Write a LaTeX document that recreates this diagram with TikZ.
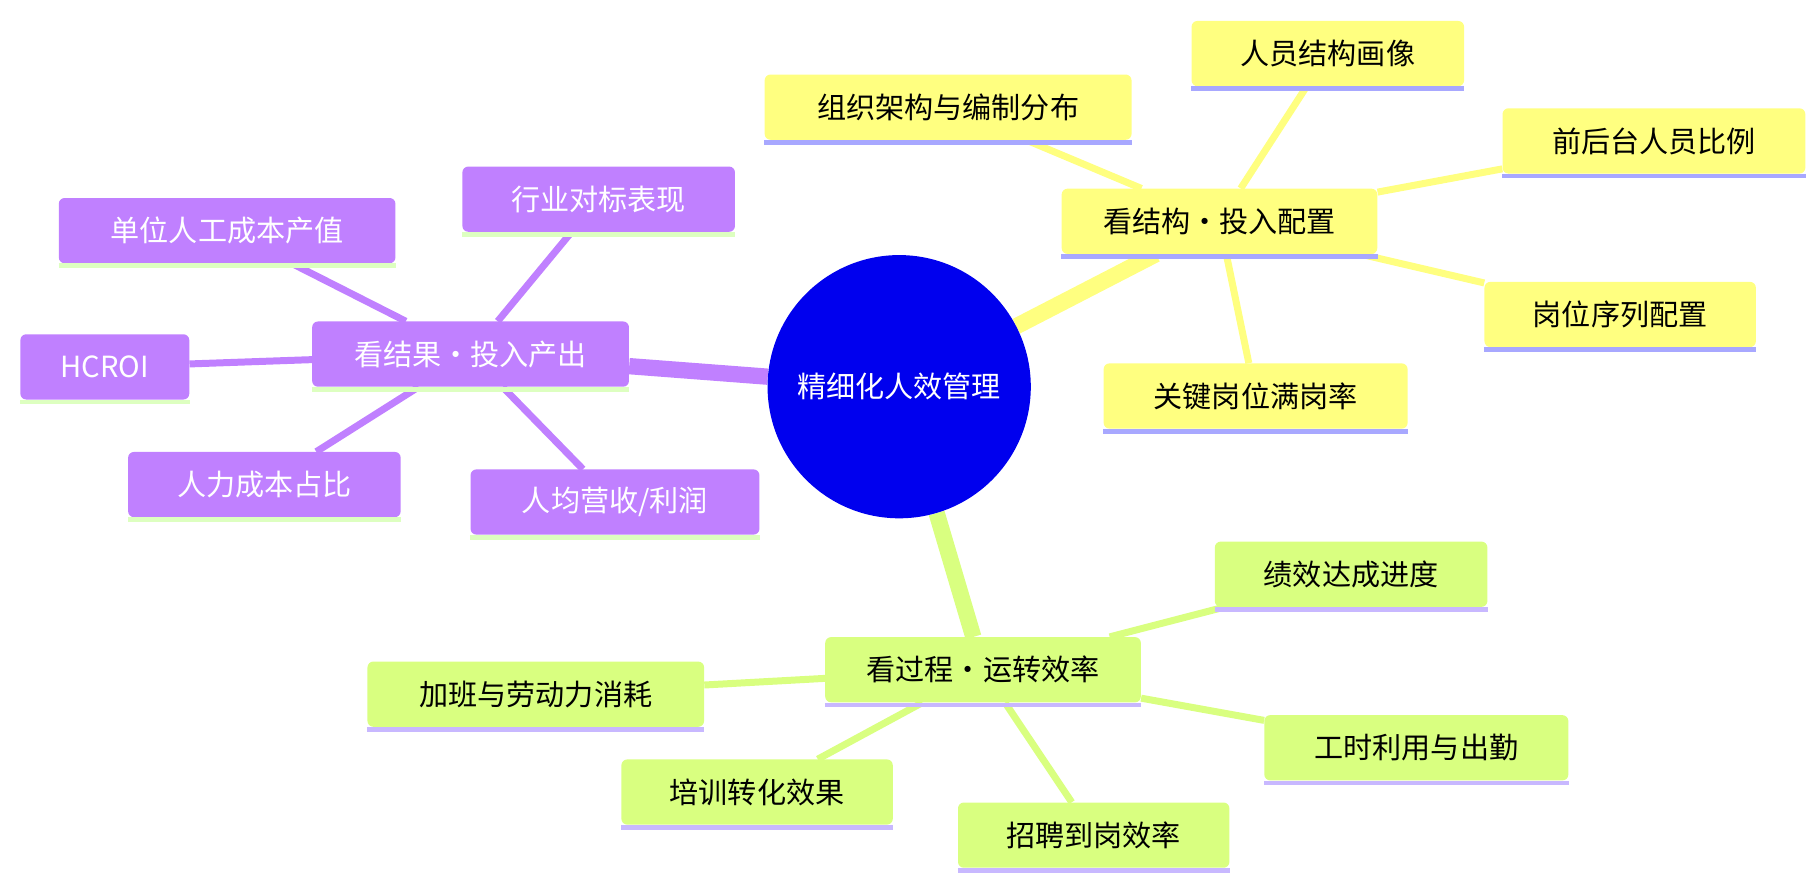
\documentclass[tikz,border=0pt]{standalone}
\usepackage{fontspec}
\setmainfont{Noto Sans CJK SC}
\usetikzlibrary{backgrounds}
\definecolor{yel}{HTML}{FFFF80}
\definecolor{grn}{HTML}{D9FF80}
\definecolor{pur}{HTML}{C080FF}
\definecolor{ulb}{HTML}{A8A8FF}
\definecolor{ulp}{HTML}{C8B8FF}
\definecolor{ulg}{HTML}{DDFFC0}
\definecolor{cblue}{HTML}{0000EE}
\tikzset{
 box/.style={rounded corners=5pt,inner sep=0pt,minimum height=56pt,font=\fontsize{25}{30}\selectfont},
 ybox/.style={box,fill=yel,text=black},
 gbox/.style={box,fill=grn,text=black},
 pbox/.style={box,fill=pur,text=white},
 mainl/.style={line width=14pt},
 subl/.style={line width=6pt},
}
\begin{document}
\begin{tikzpicture}[x=1pt,y=-1pt]
\useasboundingbox (0,0) rectangle (1560,760);
\node[circle,fill=cblue,minimum size=226pt,inner sep=0pt,text=white,font=\fontsize{25}{30}\selectfont] (c) at (772,332) {精细化人效管理};
% yellow
\node[ybox,minimum width=271pt] (y0) at (1047,190) {看结构·投入配置};
\node[ybox,minimum width=315pt] (y1) at (814,92) {组织架构与编制分布};
\node[ybox,minimum width=234pt] (y2) at (1140,46) {人员结构画像};
\node[ybox,minimum width=260pt] (y3) at (1420,121) {前后台人员比例};
\node[ybox,minimum width=233pt] (y4) at (1391,270) {岗位序列配置};
\node[ybox,minimum width=261pt] (y5) at (1078,340) {关键岗位满岗率};
% green
\node[gbox,minimum width=271pt] (g0) at (844,575) {看过程·运转效率};
\node[gbox,minimum width=234pt] (g1) at (1160,493) {绩效达成进度};
\node[gbox,minimum width=289pt] (g2) at (460,596) {加班与劳动力消耗};
\node[gbox,minimum width=261pt] (g3) at (1216,642) {工时利用与出勤};
\node[gbox,minimum width=233pt] (g4) at (650,680) {培训转化效果};
\node[gbox,minimum width=233pt] (g5) at (939,717) {招聘到岗效率};
% purple
\node[pbox,minimum width=272pt] (p0) at (404,304) {看结果·投入产出};
\node[pbox,minimum width=234pt] (p1) at (514,171) {行业对标表现};
\node[pbox,minimum width=289pt] (p2) at (195,198) {单位人工成本产值};
\node[pbox,minimum width=145pt] (p3) at (90,315) {HCROI};
\node[pbox,minimum width=234pt] (p4) at (227,416) {人力成本占比};
\node[pbox,minimum width=248pt] (p5) at (528,431) {人均营收/利润};
% underlines
\foreach \n in {y0,y1,y2,y3,y4,y5} \draw[ulb,line width=4pt] ([yshift=-2pt]\n.south west) -- ([yshift=-2pt]\n.south east);
\foreach \n in {g0,g1,g2,g3,g4,g5} \draw[ulp,line width=4pt] ([yshift=-2pt]\n.south west) -- ([yshift=-2pt]\n.south east);
\foreach \n in {p0,p1,p2,p3,p4,p5} \draw[ulg,line width=4pt] ([yshift=-2pt]\n.south west) -- ([yshift=-2pt]\n.south east);
\begin{scope}[on background layer]
\draw[yel,mainl] (c) -- (y0);
\draw[grn,mainl] (c) -- (g0);
\draw[pur,mainl] (c) -- (p0);
\foreach \n in {y1,y2,y3,y4,y5} \draw[yel,subl] (y0) -- (\n);
\foreach \n in {g1,g2,g3,g4,g5} \draw[grn,subl] (g0) -- (\n);
\foreach \n in {p1,p2,p3,p4,p5} \draw[pur,subl] (p0) -- (\n);
\end{scope}
\end{tikzpicture}
\end{document}
